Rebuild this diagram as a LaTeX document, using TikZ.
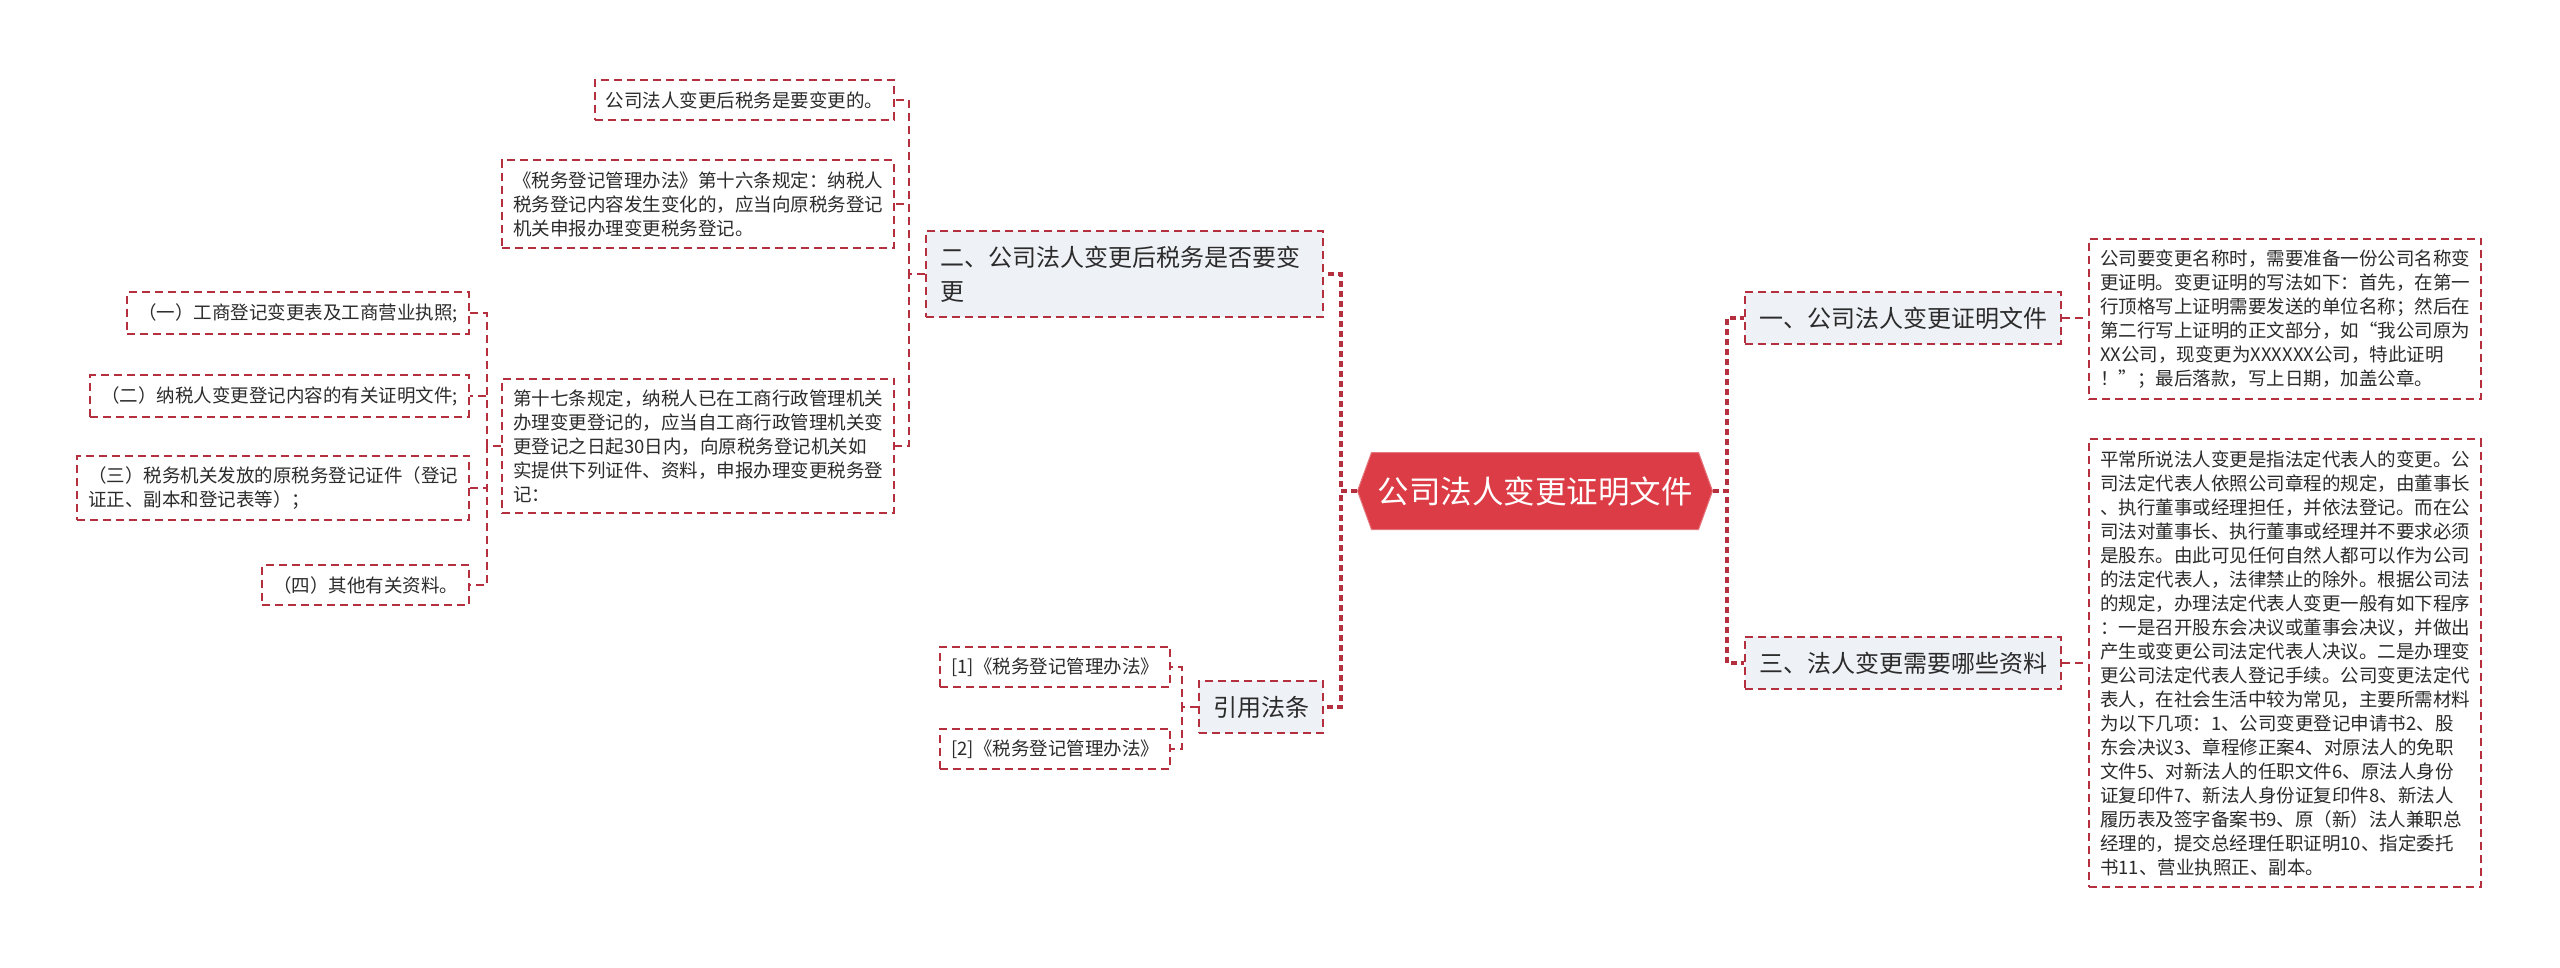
\documentclass[tikz,border=0pt]{standalone}
\usepackage{fontspec}
\usepackage{tikz}
\usetikzlibrary{shapes.symbols, calc}
\newfontfamily\cjk{Noto Sans CJK SC}
\definecolor{mapred}{HTML}{B5303F}
\definecolor{rootred}{HTML}{DC3C45}
\definecolor{topicgray}{HTML}{EEF1F5}
\definecolor{inkgray}{HTML}{2B2B2B}
\tikzset{
    leaf box/.style={
        draw=mapred, line width=2pt, dash pattern=on 8pt off 5pt,
        fill=white, text=inkgray, align=left,
        font=\cjk\fontsize{18.5}{24}\selectfont,
        inner xsep=11pt, inner ysep=11pt
    },
    topic box/.style={
        draw=mapred, line width=2pt, dash pattern=on 8pt off 5pt,
        fill=topicgray, text=inkgray, align=left,
        font=\cjk\fontsize{24}{34}\selectfont,
        inner xsep=14pt, inner ysep=15pt
    },
    root box/.style={
        shape=signal, signal to=west and east, signal pointer angle=140,
        fill=rootred, draw=rootred!70!white, line width=1pt, text=white,
        font=\cjk\fontsize{31.5}{36}\selectfont,
        minimum width=354pt, minimum height=77pt, inner xsep=6pt
    },
    main link/.style={draw=mapred, line width=4pt, dash pattern=on 6pt off 4pt},
    sub link/.style={draw=mapred, line width=2pt, dash pattern=on 8pt off 5pt}
}

\begin{document}
\begin{tikzpicture}[x=1pt, y=-1pt]
    \useasboundingbox (0,0) rectangle (2560,968);
    % centre and main topics
    \node[root box] (root) at (1535,491) {公司法人变更证明文件};
    \node[topic box, text width=369pt, anchor=east] (tax) at (1324,274) {二、公司法人变更后税务是否要变\\更};
    \node[topic box, anchor=east] (cite) at (1324,707) {引用法条};
    \node[topic box, anchor=west] (proof) at (1744,318) {一、公司法人变更证明文件};
    \node[topic box, anchor=west] (docs) at (1744,663) {三、法人变更需要哪些资料};
    % left leaves
    \node[leaf box, anchor=east] (must) at (895,100) {公司法人变更后税务是要变更的。};
    \node[leaf box, anchor=east] (art16) at (895,204) {《税务登记管理办法》第十六条规定：纳税人\\税务登记内容发生变化的，应当向原税务登记\\机关申报办理变更税务登记。};
    \node[leaf box, anchor=east] (art17) at (895,446) {第十七条规定，纳税人已在工商行政管理机关\\办理变更登记的，应当自工商行政管理机关变\\更登记之日起30日内，向原税务登记机关如\\实提供下列证件、资料，申报办理变更税务登\\记：};
    \node[leaf box, anchor=east] (item1) at (470,313) {（一）工商登记变更表及工商营业执照;};
    \node[leaf box, anchor=east] (item2) at (470,396) {（二）纳税人变更登记内容的有关证明文件;};
    \node[leaf box, anchor=east] (item3) at (470,488) {（三）税务机关发放的原税务登记证件（登记\\证正、副本和登记表等）；};
    \node[leaf box, anchor=east] (item4) at (470,585) {（四）其他有关资料。};
    \node[leaf box, anchor=east] (ref1) at (1171,667) {[1]《税务登记管理办法》};
    \node[leaf box, anchor=east] (ref2) at (1171,749) {[2]《税务登记管理办法》};
    % right leaves
    \node[leaf box, anchor=west] (proofnote) at (2088,319) {公司要变更名称时，需要准备一份公司名称变\\更证明。变更证明的写法如下：首先，在第一\\行顶格写上证明需要发送的单位名称；然后在\\第二行写上证明的正文部分，如“我公司原为\\XX公司，现变更为XXXXXX公司，特此证明\\！”；最后落款，写上日期，加盖公章。};
    \node[leaf box, anchor=west] (docsnote) at (2088,663) {平常所说法人变更是指法定代表人的变更。公\\司法定代表人依照公司章程的规定，由董事长\\、执行董事或经理担任，并依法登记。而在公\\司法对董事长、执行董事或经理并不要求必须\\是股东。由此可见任何自然人都可以作为公司\\的法定代表人，法律禁止的除外。根据公司法\\的规定，办理法定代表人变更一般有如下程序\\：一是召开股东会决议或董事会决议，并做出\\产生或变更公司法定代表人决议。二是办理变\\更公司法定代表人登记手续。公司变更法定代\\表人，在社会生活中较为常见，主要所需材料\\为以下几项：1、公司变更登记申请书2、股\\东会决议3、章程修正案4、对原法人的免职\\文件5、对新法人的任职文件6、原法人身份\\证复印件7、新法人身份证复印件8、新法人\\履历表及签字备案书9、原（新）法人兼职总\\经理的，提交总经理任职证明10、指定委托\\书11、营业执照正、副本。};
    % connectors
    \coordinate (root left) at ($(root.west)+(-16,0)$);
    \coordinate (root right) at ($(root.east)+(14,0)$);
    \coordinate (tax left) at ($(tax.west)+(-16,0)$);
    \coordinate (art17 left) at ($(art17.west)+(-14,0)$);
    \coordinate (cite left) at ($(cite.west)+(-16,0)$);
    \foreach \topic in {tax,cite}
        \draw[main link] (root.west) -- (root left) |- (\topic.east);
    \foreach \topic in {proof,docs}
        \draw[main link] (root.east) -- (root right) |- (\topic.west);
    \foreach \leaf in {must,art16,art17}
        \draw[sub link] (tax.west) -- (tax left) |- (\leaf.east);
    \foreach \leaf in {item1,item2,item3,item4}
        \draw[sub link] (art17.west) -- (art17 left) |- (\leaf.east);
    \foreach \leaf in {ref1,ref2}
        \draw[sub link] (cite.west) -- (cite left) |- (\leaf.east);
    \draw[sub link] (proof.east) -- (proof.east -| proofnote.west);
    \draw[sub link] (docs.east) -- (docs.east -| docsnote.west);
\end{tikzpicture}
\end{document}
